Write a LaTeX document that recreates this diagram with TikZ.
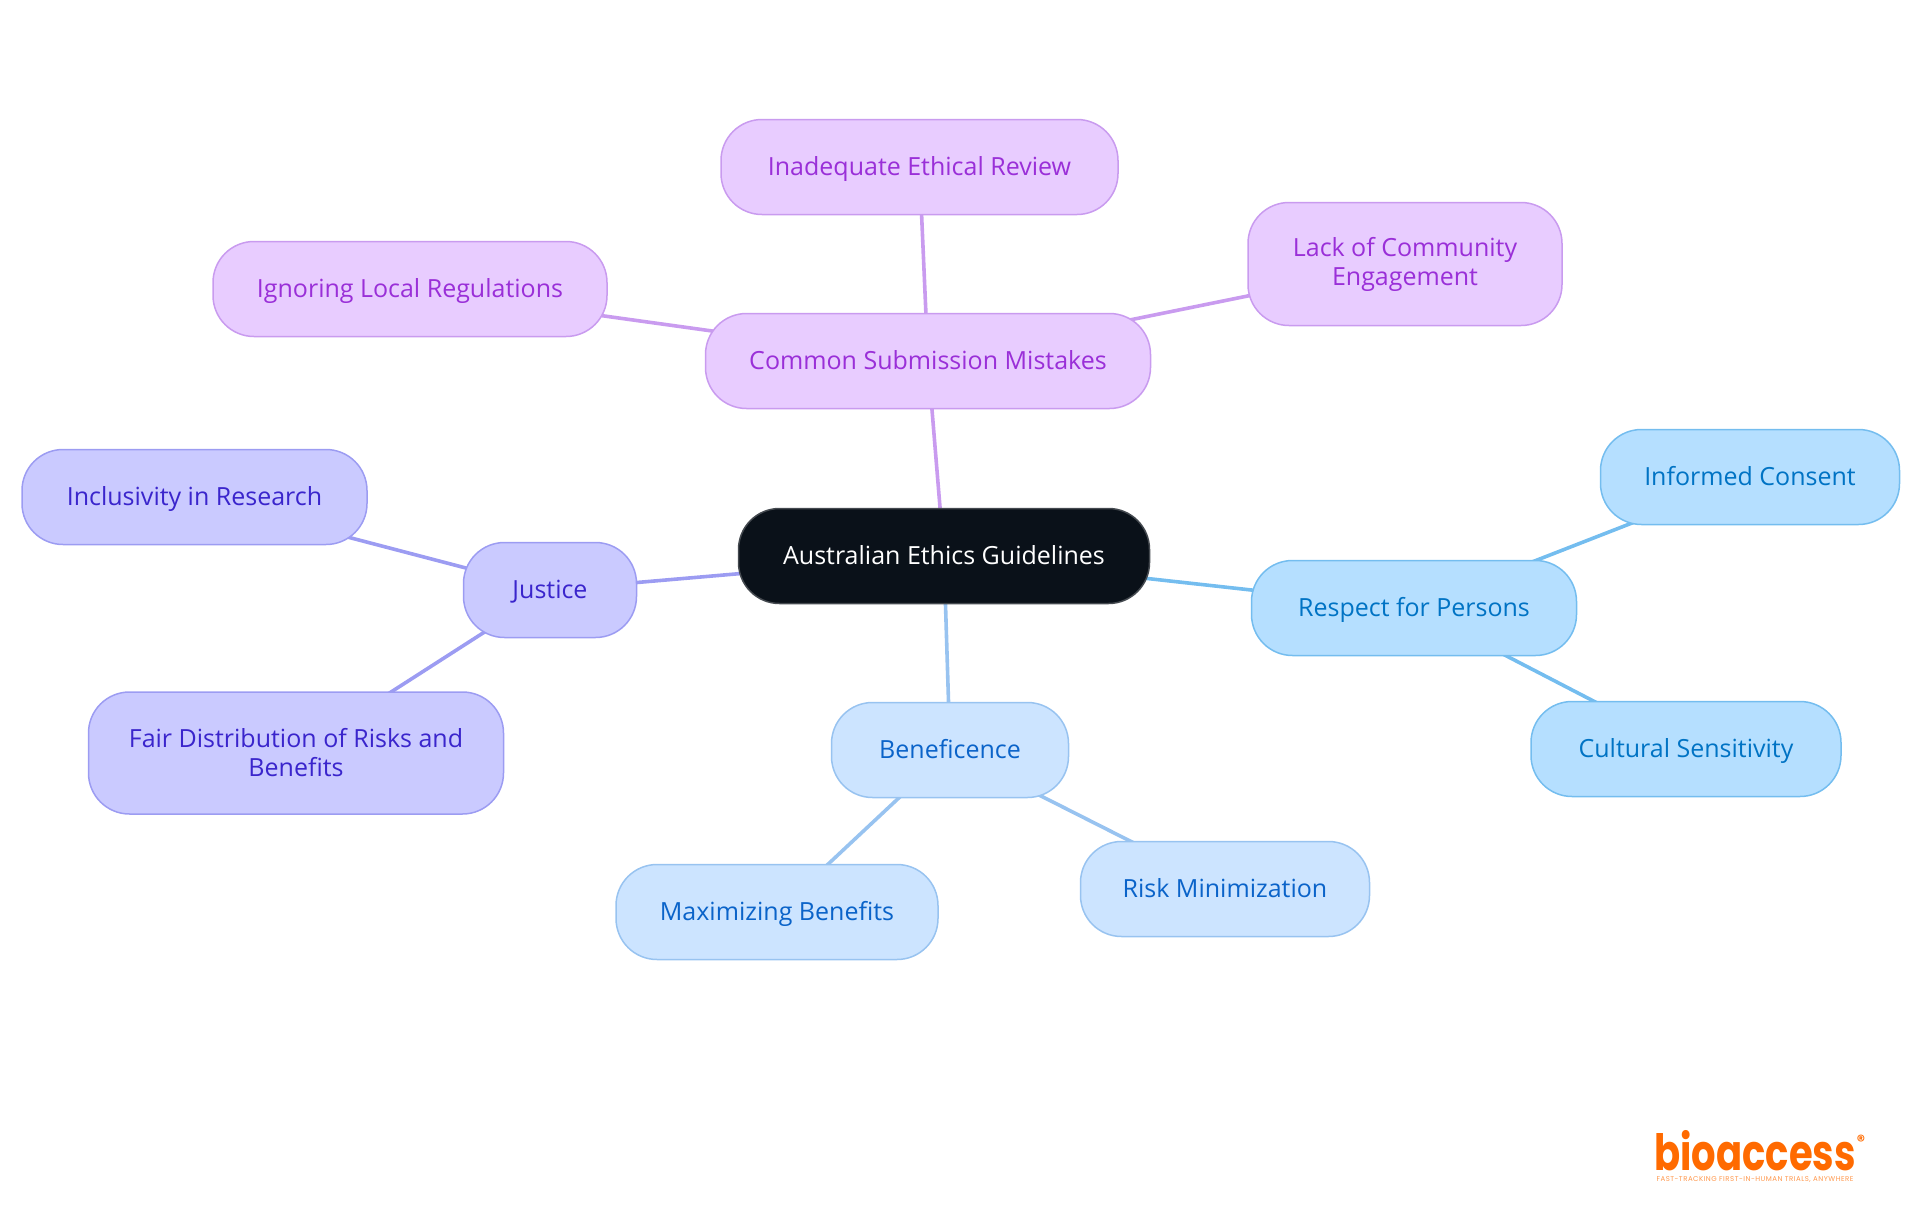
\documentclass[tikz,border=0pt]{standalone}
\usepackage{fontspec}
\usetikzlibrary{backgrounds}
\setmainfont{Open Sans}
\newfontfamily\logofont[FakeStretch=0.77]{Poppins}
\newfontfamily\markfont{Poppins}
\newfontfamily\taglinefont[LetterSpace=7]{Poppins}

\definecolor{rootfill}{HTML}{0A1119}
\definecolor{rootline}{HTML}{44494F}
\definecolor{mistakefill}{HTML}{E8CCFF}
\definecolor{mistakeline}{HTML}{C99BEF}
\definecolor{mistaketext}{HTML}{9A2FD8}
\definecolor{justicefill}{HTML}{CACAFF}
\definecolor{justiceline}{HTML}{9C9CF2}
\definecolor{justicetext}{HTML}{3A25CC}
\definecolor{benefitfill}{HTML}{CCE4FF}
\definecolor{benefitline}{HTML}{98C3F0}
\definecolor{benefittext}{HTML}{0A63C9}
\definecolor{respectfill}{HTML}{B5DFFF}
\definecolor{respectline}{HTML}{74BDEF}
\definecolor{respecttext}{HTML}{0073C4}
\definecolor{logoorange}{HTML}{FF6A00}

\tikzset{
    topic/.style={draw, line width=1.5pt, rounded corners=41pt, align=center, inner sep=0pt,
        minimum height=95pt, text height=22pt, text depth=6pt, font=\fontsize{25}{29}\selectfont},
    twolines/.style={text height=, text depth=},
    mistake/.style={topic, fill=mistakefill, draw=mistakeline, text=mistaketext},
    justice/.style={topic, fill=justicefill, draw=justiceline, text=justicetext},
    benefit/.style={topic, fill=benefitfill, draw=benefitline, text=benefittext},
    respect/.style={topic, fill=respectfill, draw=respectline, text=respecttext},
    link/.style={line width=3.6pt},
}

\begin{document}
\begin{tikzpicture}[x=1pt, y=-1pt]
    \useasboundingbox (0,0) rectangle (1920,1215);

    \node[topic, fill=rootfill, draw=rootline, text=white, minimum width=411pt] (root) at (944,556) {Australian Ethics Guidelines};

    \node[mistake, minimum width=445pt] (mistakes) at (928,361) {Common Submission Mistakes};
    \node[mistake, minimum width=397pt] (review) at (919.5,167) {Inadequate Ethical Review};
    \node[mistake, minimum width=394pt] (local) at (410,289) {Ignoring Local Regulations};
    \node[mistake, twolines, minimum width=314pt, minimum height=123pt] (community) at (1405,264) {Lack of Community\\Engagement};

    \node[justice, minimum width=173pt] (justice) at (550,590) {Justice};
    \node[justice, minimum width=345pt] (inclusivity) at (194.5,497) {Inclusivity in Research};
    \node[justice, twolines, minimum width=415pt, minimum height=122pt] (fair) at (296,753) {Fair Distribution of Risks and\\Benefits};

    \node[benefit, minimum width=237pt] (beneficence) at (950,750) {Beneficence};
    \node[benefit, minimum width=322pt] (maximizing) at (777,912) {Maximizing Benefits};
    \node[benefit, minimum width=289pt] (risk) at (1225,889) {Risk Minimization};

    \node[respect, minimum width=325pt] (persons) at (1414,608) {Respect for Persons};
    \node[respect, minimum width=299pt] (consent) at (1750,477) {Informed Consent};
    \node[respect, minimum width=310pt] (cultural) at (1686,749) {Cultural Sensitivity};

    \begin{scope}[on background layer]
        \draw[link, mistakeline] (root.center) -- (mistakes.center);
        \draw[link, mistakeline] (mistakes.center) -- (review.center);
        \draw[link, mistakeline] (mistakes.center) -- (local.center);
        \draw[link, mistakeline] (mistakes.center) -- (community.center);
        \draw[link, justiceline] (root.center) -- (justice.center);
        \draw[link, justiceline] (justice.center) -- (inclusivity.center);
        \draw[link, justiceline] (justice.center) -- (fair.center);
        \draw[link, benefitline] (root.center) -- (beneficence.center);
        \draw[link, benefitline] (beneficence.center) -- (maximizing.center);
        \draw[link, benefitline] (beneficence.center) -- (risk.center);
        \draw[link, respectline] (root.center) -- (persons.center);
        \draw[link, respectline] (persons.center) -- (consent.center);
        \draw[link, respectline] (persons.center) -- (cultural.center);
    \end{scope}

    % logo
    \node[inner sep=0pt, text=logoorange, font=\logofont\bfseries\fontsize{50}{50}\selectfont, anchor=base] (logo) at (1755,1170) {bioaccess};
    \node[inner sep=0pt, text=logoorange, font=\markfont\bfseries\fontsize{16}{16}\selectfont] (registered) at (1861,1141) {®};
    \node[inner sep=0pt, text=logoorange!70, font=\taglinefont\fontsize{7}{7}\selectfont, anchor=base] (tagline) at (1755,1181) {FAST-TRACKING FIRST-IN-HUMAN TRIALS, ANYWHERE};
\end{tikzpicture}
\end{document}
